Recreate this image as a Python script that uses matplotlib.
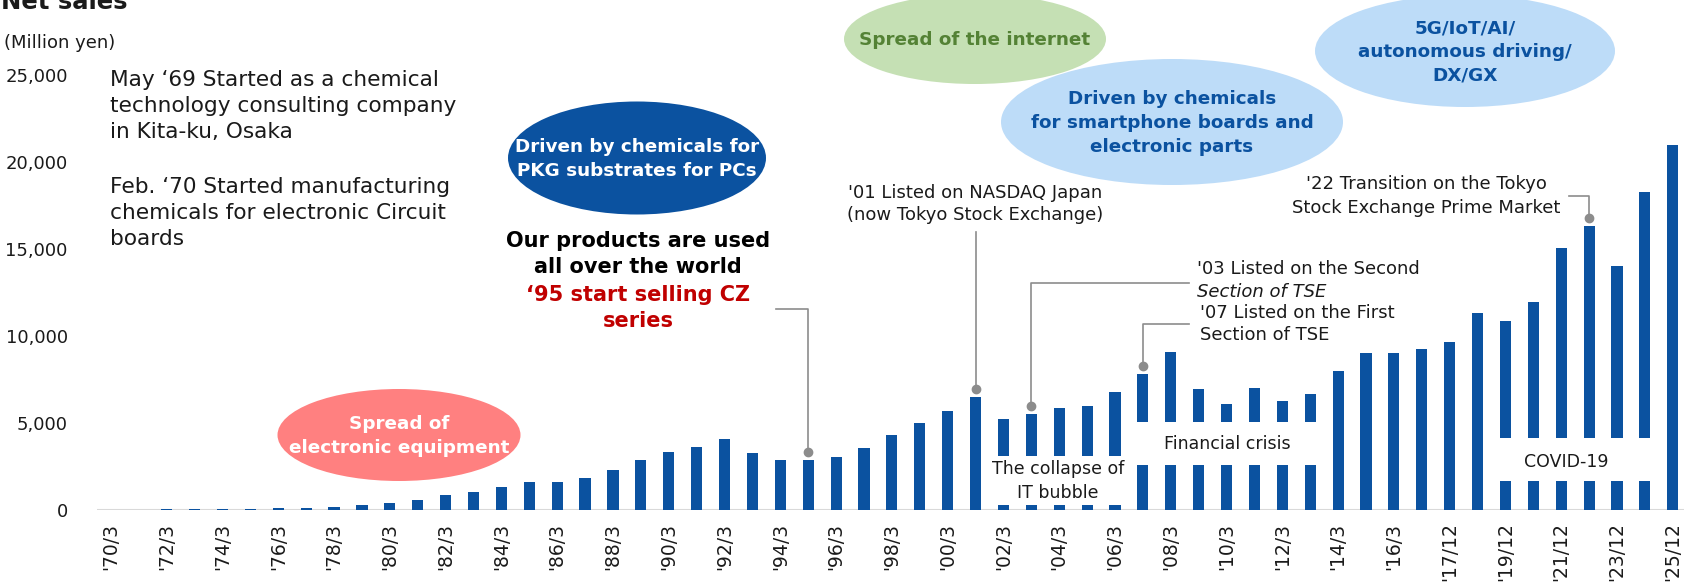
import matplotlib
matplotlib.use("Agg")
import matplotlib.pyplot as plt
from matplotlib.patches import Ellipse, Rectangle
import matplotlib.transforms as mtransforms

# ---------------- data ----------------
periods = ["'70/3", "'71/3", "'72/3", "'73/3", "'74/3", "'75/3", "'76/3", "'77/3", "'78/3", "'79/3",
           "'80/3", "'81/3", "'82/3", "'83/3", "'84/3", "'85/3", "'86/3", "'87/3", "'88/3", "'89/3",
           "'90/3", "'91/3", "'92/3", "'93/3", "'94/3", "'95/3", "'96/3", "'97/3", "'98/3", "'99/3",
           "'00/3", "'01/3", "'02/3", "'03/3", "'04/3", "'05/3", "'06/3", "'07/3", "'08/3", "'09/3",
           "'10/3", "'11/3", "'12/3", "'13/3", "'14/3", "'15/3", "'16/3", "'17/3", "'17/12", "'18/12",
           "'19/12", "'20/12", "'21/12", "'22/12", "'23/12", "'24/12", "'25/12"]

net_sales = [10, 20, 50, 50, 75, 75, 115, 135, 170, 300,
             420, 555, 845, 1035, 1320, 1590, 1630, 1840, 2300, 2890,
             3310, 3600, 4080, 3300, 2870, 2870, 3030, 3540, 4310, 4980,
             5670, 6480, 5210, 5500, 5840, 6000, 6760, 7800, 9100, 6930,
             6090, 7030, 6260, 6690, 7990, 9040, 9040, 9230, 9640, 11320,
             10860, 11940, 15040, 16340, 14000, 18260, 20980]

ytick_values = [0, 5000, 10000, 15000, 20000, 25000]
ytick_labels = ["0", "5,000", "10,000", "15,000", "20,000", "25,000"]

# index of bars referred to by the callouts
i_cz, i_nasdaq, i_tse2, i_tse1, i_prime = 25, 31, 33, 37, 53

# ---------------- style ----------------
BAR = "#0B52A0"
GRAY = "#8C8C8C"
TXT = "#1A1A1A"

W, H = 1684, 584
plt.rcParams['font.family'] = ['DejaVu Sans']
fig = plt.figure(figsize=(W / 100, H / 100), dpi=100)

# reference-pixel transform (x right, y down)
T = mtransforms.Affine2D().scale(1 / W, -1 / H).translate(0, 1) + fig.transFigure

ax = fig.add_axes([97 / W, (H - 510) / H, (W - 97) / W, 435 / H])
xs = list(range(len(periods)))
ax.bar(xs, net_sales, width=0.4, color=BAR, zorder=2)
ax.set_xlim(-0.5, -0.5 + (W - 97) / 27.89)
ax.set_ylim(0, 25000)
for s in ax.spines.values():
    s.set_visible(False)
ax.axhline(0, color="#D9D9D9", lw=1.5, zorder=1)
ax.set_yticks(ytick_values, ytick_labels)
ax.set_xticks(xs[::2], periods[::2], rotation=90)
ax.tick_params(axis='y', length=0, pad=21, labelsize=13, labelcolor=TXT)
ax.tick_params(axis='x', length=0, pad=9, labelsize=13.5, labelcolor=TXT)
ax.patch.set_alpha(0)


def bar_top_ref(i):
    disp = ax.transData.transform((i, net_sales[i]))
    return T.inverted().transform(disp)


def ftext(x, y, s, **kw):
    kw.setdefault('color', TXT)
    kw.setdefault('ha', 'center')
    kw.setdefault('va', 'center')
    return fig.text(x, y, s, transform=T, **kw)


# ---------------- titles ----------------
ftext(1, 9, "Net sales", ha='left', va='baseline', fontsize=17.5, fontweight='bold')
ftext(4, 43, "(Million yen)", ha='left', fontsize=13)

ftext(110, 106, "May \u201869 Started as a chemical\ntechnology consulting company\nin Kita-ku, Osaka",
      ha='left', fontsize=15.6, linespacing=1.38)
ftext(110, 213, "Feb. \u201870 Started manufacturing\nchemicals for electronic Circuit\nboards",
      ha='left', fontsize=15.6, linespacing=1.38)

# ---------------- ellipses ----------------
ellipses = [
    ((399, 435), 243, 92, "#FF8080", "Spread of\nelectronic equipment", "white", 1.4),
    ((637, 158), 258, 113, BAR, "Driven by chemicals for\nPKG substrates for PCs", "white", 1.36),
    ((975, 39), 262, 90, "#C5E0B4", "Spread of the internet", "#548235", 1.2),
    ((1172, 122), 342, 126, "#BDDCF8", "Driven by chemicals\nfor smartphone boards and\nelectronic parts", "#0B52A0", 1.4),
    ((1465, 51), 300, 112, "#BDDCF8", "5G/IoT/AI/\nautonomous driving/\nDX/GX", "#0B52A0", 1.36),
]
for (cx, cy), w, h, fc, label, tc, ls in ellipses:
    fig.add_artist(Ellipse((cx, cy), w, h, transform=T, facecolor=fc, edgecolor='none', zorder=1))
    ftext(cx, cy + 1, label, color=tc, fontsize=13.2, fontweight='bold', linespacing=ls, zorder=3)

ftext(638, 254, "Our products are used\nall over the world", fontsize=15, fontweight='bold',
      color='black', linespacing=1.4)
ftext(638, 308, "\u201895 start selling CZ\nseries", fontsize=15, fontweight='bold',
      color='#C00000', linespacing=1.35)

# ---------------- callouts ----------------
def callout(i, path):
    bx, by = bar_top_ref(i)
    dot_y = by - 8
    xs_ = [p[0] for p in path] + [bx, bx]
    ys_ = [p[1] for p in path] + [path[-1][1], dot_y]
    fig.add_artist(plt.Line2D(xs_, ys_, transform=T, color=GRAY, lw=1.2, zorder=2))
    fig.add_artist(plt.Line2D([bx], [dot_y], transform=T, color=GRAY, marker='o',
                              markersize=6, lw=0, zorder=2))


callout(i_cz, [(776, 309)])
callout(i_nasdaq, [(976, 232)])
callout(i_tse2, [(1189, 283)])
callout(i_tse1, [(1189, 324)])
callout(i_prime, [(1569, 196)])

ftext(975, 204, "'01 Listed on NASDAQ Japan\n(now Tokyo Stock Exchange)", fontsize=13, linespacing=1.33)
ftext(1197, 269, "'03 Listed on the Second", ha='left', fontsize=13)
ftext(1197, 292, "Section of TSE", ha='left', fontsize=13, style='italic')
ftext(1200, 324, "'07 Listed on the First\nSection of TSE", ha='left', fontsize=13,
      linespacing=1.35)
ftext(1426, 196, "'22 Transition on the Tokyo\nStock Exchange Prime Market", fontsize=13,
      linespacing=1.38)

# ---------------- event boxes (white breaks over bars) ----------------
events = [
    ((985, 455.7), (1132, 505), "The collapse of\nIT bubble", (1058, 481)),
    ((1133, 422), (1322, 465), "Financial crisis", (1227, 444)),
    ((1492, 438), (1660, 481), "COVID-19", (1566, 462)),
]
for (x0, y0), (x1, y1), label, (tx, ty) in events:
    fig.add_artist(Rectangle((x0, y0), x1 - x0, y1 - y0, transform=T, facecolor='white',
                             edgecolor='none', zorder=2))
    ftext(tx, ty, label, fontsize=12.5, linespacing=1.42, zorder=3)

fig.savefig("out.png", dpi=100)
